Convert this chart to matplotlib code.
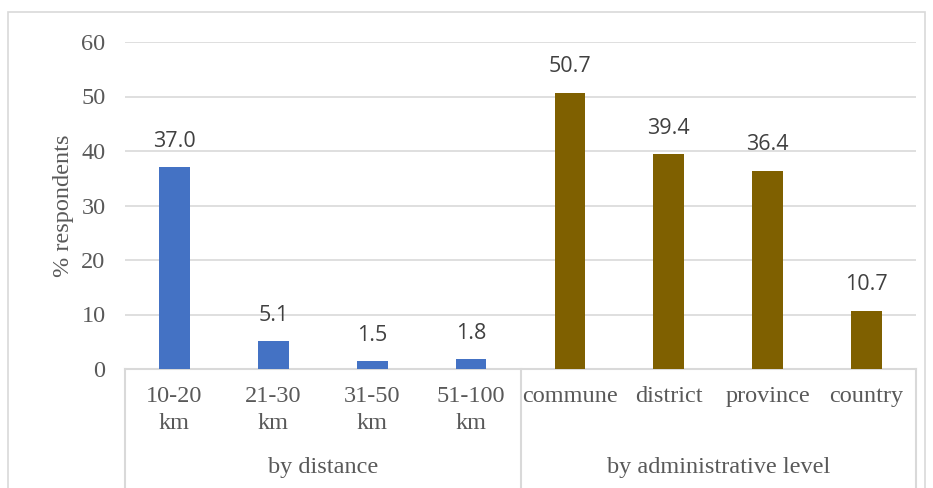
import numpy as np
import matplotlib.pyplot as plt
import matplotlib.patches as patches
import matplotlib.transforms as transforms

# data
dist_labels = ['10-20\nkm', '21-30\nkm', '31-50\nkm', '51-100\nkm']
dist_values = [37.0, 5.1, 1.5, 1.8]
admin_labels = ['commune', 'district', 'province', 'country']
admin_values = [50.7, 39.4, 36.4, 10.7]
group_labels = ['by distance', 'by administrative level']

serif = 'Liberation Serif'
txt_grey = '#595959'
grid_grey = '#d9d9d9'
fs = 17.5

fig = plt.figure(figsize=(9.33, 4.88), dpi=100)
ax = fig.add_axes([125/933, 1-369/488, (916-125)/933, (369-42)/488])

# outer chart border
fig.patches.append(patches.Rectangle((8/933, -0.05), (925-8)/933, 1.05-12/488,
                                     transform=fig.transFigure, fill=False,
                                     edgecolor=grid_grey, linewidth=1.2))

x1 = np.arange(len(dist_values))
x2 = np.arange(len(admin_values)) + len(dist_values)
b1 = ax.bar(x1, dist_values, width=0.31, color='#4472C4', zorder=3)
b2 = ax.bar(x2, admin_values, width=0.31, color='#7F6000', zorder=3)
for b in (b1, b2):
    ax.bar_label(b, fmt='%.1f', padding=11, fontsize=15.5, color='#404040',
                 family='Open Sans')

ax.set_xlim(-0.5, 7.5)
ax.set_ylim(0, 60)
ax.set_yticks(range(0, 61, 10))
ax.yaxis.grid(True, color=grid_grey, linewidth=1.2, zorder=0)
ax.tick_params(axis='y', length=0, pad=14, labelsize=fs, labelcolor=txt_grey)
for lab in ax.get_yticklabels():
    lab.set_family(serif)
ax.set_xticks([])
for s in ax.spines.values():
    s.set_visible(False)
ax.set_ylabel('% respondents', family=serif, fontsize=fs, color=txt_grey, labelpad=5)

# multi-level category axis
trans = transforms.blended_transform_factory(ax.transData, ax.transAxes)
for x, lab in zip(list(x1) + list(x2), dist_labels + admin_labels):
    ax.text(x, -0.052, lab, transform=trans, ha='center', va='top',
            family=serif, fontsize=fs, color=txt_grey, linespacing=1.4)
ax.text(1.5, -0.30, group_labels[0], transform=trans, ha='center', va='center',
        family=serif, fontsize=fs, color=txt_grey)
ax.text(5.5, -0.30, group_labels[1], transform=trans, ha='center', va='center',
        family=serif, fontsize=fs, color=txt_grey)
ax.plot([-0.5, 7.5], [0, 0], transform=trans, color=grid_grey, lw=1.5, clip_on=False)
for xs in (-0.5, 3.5, 7.5):
    ax.plot([xs, xs], [0, -0.5], transform=trans, color=grid_grey, lw=1.5, clip_on=False)

fig.savefig('out.png', dpi=100)
